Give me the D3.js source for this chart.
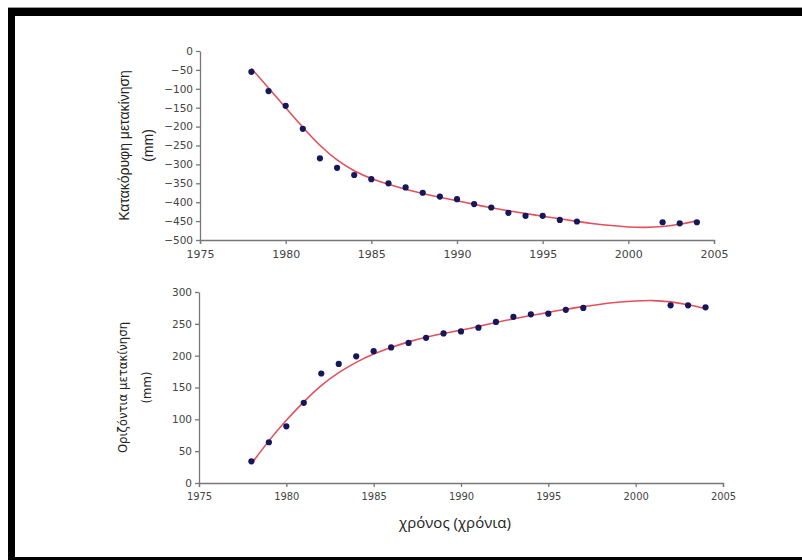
<!DOCTYPE html>
<html>
<head>
<meta charset="utf-8">
<script src="https://cdn.jsdelivr.net/npm/d3@7"></script>
<style>
  body { margin: 0; background: #fff; }
  svg { display: block; }
  .tick text { fill: #444; }
</style>
</head>
<body>
<script>
// vertical movement, measured points (year, mm)
let vertYears  = [1978, 1979, 1980, 1981, 1982, 1983, 1984, 1985, 1986, 1987, 1988, 1989, 1990, 1991, 1992, 1993, 1994, 1995, 1996, 1997, 2002, 2003, 2004];
let vertValues = [-55, -106, -145, -206, -284, -309, -328, -339, -350, -361, -375, -385, -392, -405, -414, -428, -436, -436, -447, -451, -453, -456, -453];

// vertical movement, trend line
let vertFitYears  = [1978, 1979, 1980, 1981, 1982, 1983, 1984, 1985, 1986, 1987, 1988, 1989, 1990, 1991, 1992, 1993, 1994, 1995, 1996, 1997, 1998, 1999, 2000, 2001, 2002, 2003, 2004];
let vertFitValues = [-46, -98, -150, -202, -251, -290, -318, -338, -353, -366, -377, -387, -396, -406, -415, -423, -430, -437, -444, -451, -457, -462, -466, -467, -465, -459, -449];

// horizontal movement, measured points
let horYears  = [1978, 1979, 1980, 1981, 1982, 1983, 1984, 1985, 1986, 1987, 1988, 1989, 1990, 1991, 1992, 1993, 1994, 1995, 1996, 1997, 2002, 2003, 2004];
let horValues = [34, 64, 89, 126, 172, 187, 199, 207, 213, 220, 228, 235, 238, 244, 253, 261, 265, 266, 272, 275, 279, 279, 276];

// horizontal movement, trend line
let horFitYears  = [1978, 1979, 1980, 1981, 1982, 1983, 1984, 1985, 1986, 1987, 1988, 1989, 1990, 1991, 1992, 1993, 1994, 1995, 1996, 1997, 1998, 1999, 2000, 2001, 2002, 2003, 2004];
let horFitValues = [30, 67, 99, 128, 154, 174, 190, 203, 213, 222, 229, 235, 240, 246, 252, 258, 263, 268, 273, 277, 281, 284, 286, 287, 285, 280, 274];

let xTicks = [1975, 1980, 1985, 1990, 1995, 2000, 2005];
let vertTicks = [0, -50, -100, -150, -200, -250, -300, -350, -400, -450, -500];
let horTicks = [0, 50, 100, 150, 200, 250, 300];

let width = 802, height = 560;

let svg = d3.select("body").append("svg")
    .attr("width", width)
    .attr("height", height);

svg.append("rect").attr("width", width).attr("height", height).attr("fill", "#fff");

// black picture frame (it runs off the right edge)
svg.append("rect").attr("x", 8).attr("y", 7).attr("width", 794).attr("height", 1).attr("fill", "#999");
svg.append("rect").attr("x", 8).attr("y", 8).attr("width", 794).attr("height", 8).attr("fill", "#000");
svg.append("rect").attr("x", 8).attr("y", 8).attr("width", 7).attr("height", 552).attr("fill", "#000");
svg.append("rect").attr("x", 8).attr("y", 557).attr("width", 794).attr("height", 3).attr("fill", "#000");

function drawPanel(opt) {
    let x = d3.scaleLinear().domain([1975, 2005]).range(opt.xRange);
    let y = d3.scaleLinear().domain(opt.yDomain).range(opt.yRange);

    let g = svg.append("g");

    let xAxis = g.append("g")
        .attr("transform", `translate(0,${opt.yRange[0]})`)
        .call(d3.axisBottom(x).tickValues(xTicks).tickFormat(d3.format("d"))
            .tickSize(4).tickSizeOuter(4).tickPadding(opt.xPad));
    xAxis.selectAll("text")
        .style("font-family", opt.xFont)
        .style("font-size", opt.xFontSize + "px");

    let yAxis = g.append("g")
        .attr("transform", `translate(${opt.xRange[0]},0)`)
        .call(d3.axisLeft(y).tickValues(opt.yTicks).tickFormat(d3.format("d"))
            .tickSize(4).tickSizeOuter(0).tickPadding(3));
    yAxis.selectAll("text")
        .style("font-family", opt.yFont)
        .style("font-size", opt.yFontSize + "px");

    g.selectAll(".domain, .tick line")
        .attr("stroke", "#777")
        .attr("stroke-width", 1.3);

    // trend line
    let fit = opt.fitYears.map((yr, i) => [yr, opt.fitValues[i]]);
    g.append("path")
        .datum(fit)
        .attr("fill", "none")
        .attr("stroke", "#e2505c")
        .attr("stroke-width", 1.6)
        .attr("d", d3.line()
            .x(d => x(d[0]))
            .y(d => y(d[1]))
            .curve(d3.curveBasis));

    // measured points
    let pts = opt.years.map((yr, i) => [yr, opt.values[i]]);
    g.selectAll(".pt")
        .data(pts)
        .join("circle")
        .attr("class", "pt")
        .attr("cx", d => x(d[0]))
        .attr("cy", d => y(d[1]))
        .attr("r", 3.1)
        .attr("fill", "#16165c");

    // y title, two lines
    let cy = (opt.yRange[0] + opt.yRange[1]) / 2;
    g.append("text")
        .attr("transform", `translate(${opt.titleX},${cy}) rotate(-90)`)
        .attr("text-anchor", "middle")
        .style("font-family", opt.titleFont)
        .style("font-size", opt.titleSize + "px")
        .attr("fill", "#222")
        .text(opt.title);
    g.append("text")
        .attr("transform", `translate(${opt.titleX + 24},${cy}) rotate(-90)`)
        .attr("text-anchor", "middle")
        .style("font-family", opt.titleFont)
        .style("font-size", opt.titleSize + "px")
        .attr("fill", "#222")
        .text("(mm)");
}

drawPanel({
    xRange: [200, 714],
    yRange: [240, 51],
    yDomain: [-500, 0],
    yTicks: vertTicks,
    xPad: 6,
    xFont: "DejaVu Sans", xFontSize: 11,
    yFont: "DejaVu Sans", yFontSize: 10.5,
    years: vertYears, values: vertValues,
    fitYears: vertFitYears, fitValues: vertFitValues,
    title: "Κατακόρυφη μετακίνηση",
    titleX: 129,
    titleFont: "Liberation Sans Narrow, Liberation Sans, sans-serif",
    titleSize: 14
});

drawPanel({
    xRange: [199, 723],
    yRange: [483, 292],
    yDomain: [0, 300],
    yTicks: horTicks,
    xPad: 5,
    xFont: "DejaVu Sans Condensed, DejaVu Sans", xFontSize: 11,
    yFont: "DejaVu Sans", yFontSize: 10.5,
    years: horYears, values: horValues,
    fitYears: horFitYears, fitValues: horFitValues,
    title: "Οριζόντια μετακίνηση",
    titleX: 127,
    titleFont: "DejaVu Sans Condensed, DejaVu Sans, sans-serif",
    titleSize: 13
});

// x title
svg.append("text")
    .attr("x", 455)
    .attr("y", 528)
    .attr("text-anchor", "middle")
    .style("font-family", "Open Sans, DejaVu Sans, sans-serif")
    .style("font-size", "15px")
    .attr("fill", "#222")
    .text("χρόνος (χρόνια)");
</script>
</body>
</html>
